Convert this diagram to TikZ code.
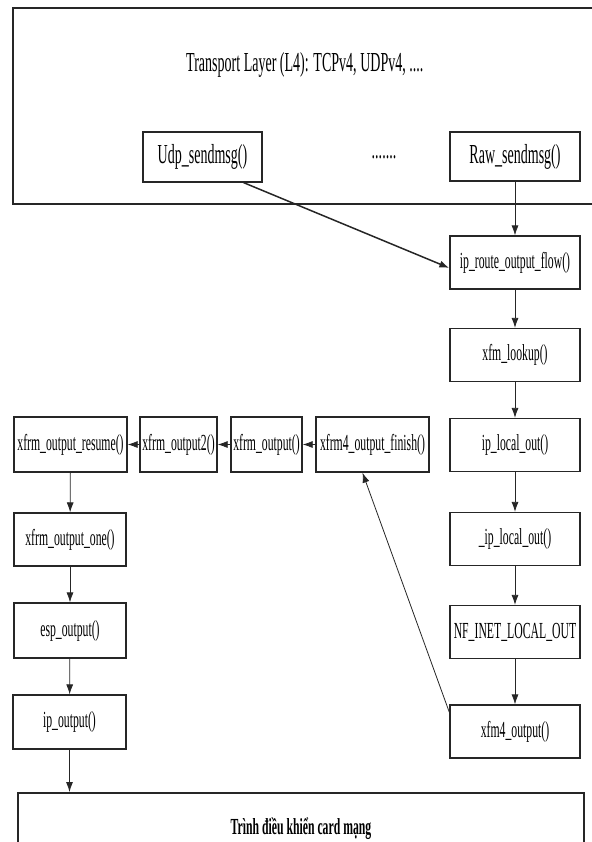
\documentclass[tikz,border=0pt]{standalone}
\usepackage{fontspec}
\setmainfont[FakeStretch=0.51]{Liberation Serif}
\usetikzlibrary{arrows.meta,positioning}

\tikzset{
  fnbox/.style={draw=black!85, line width=1.3bp, rectangle, inner sep=0pt,
    minimum width=130bp, minimum height=53bp, align=center,
    font=\fontsize{23bp}{27bp}\selectfont},
  bigtext/.style={font=\fontsize{27.5bp}{32bp}\selectfont},
  layerbox/.style={draw=black!85, line width=1.6bp, rectangle, inner sep=0pt},
  flow/.style={draw=black!85, line width=0.8bp,
    -{Latex[length=10bp,width=7bp]}},
  bigflow/.style={flow, line width=1.5bp},
}

\begin{document}
\begin{tikzpicture}[x=1bp,y=-1bp]
  \useasboundingbox (0,0) rectangle (592,842);

  % transport layer
  \node[layerbox, anchor=north west, minimum width=584bp, minimum height=196bp] (l4) at (12,7) {};
  \node[bigtext] (l4title) at ([yshift=-58bp]l4.north) {Transport Layer (L4): TCPv4, UDPv4, ....};
  \node[fnbox, bigtext, minimum width=119bp, minimum height=50bp] (udp) at (202.5,157) {Udp\_sendmsg()};
  \node[bigtext] (more) at (384,157) {.......};
  \node[fnbox, bigtext, minimum height=49bp] (raw) at (515,156.5) {Raw\_sendmsg()};

  % right column
  \node[fnbox] (route)  at (515,262.5) {ip\_route\_output\_flow()};
  \node[fnbox] (lookup) at (515,355)   {xfm\_lookup()};
  \node[fnbox] (lout)   at (515,445)   {ip\_local\_out()};
  \node[fnbox] (ulout)  at (515,539)   {\_ip\_local\_out()};
  \node[fnbox] (nf)     at (515,632)   {NF\_INET\_LOCAL\_OUT};
  \node[fnbox] (x4out)  at (515,731.5) {xfm4\_output()};

  % middle row
  \node[fnbox, minimum width=113bp, minimum height=55bp] (finish) at (372.5,444.5) {xfrm4\_output\_finish()};
  \node[fnbox, minimum width=71bp,  minimum height=55bp] (xout)   at (266.5,444.5) {xfrm\_output()};
  \node[fnbox, minimum width=77bp,  minimum height=55bp] (xout2)  at (178.5,444.5) {xfrm\_output2()};
  \node[fnbox, minimum width=113bp, minimum height=55bp] (resume) at (70.5,444.5)  {xfrm\_output\_resume()};

  % left column
  \node[fnbox, minimum width=112bp] (one)  at (70,539.5) {xfrm\_output\_one()};
  \node[fnbox, minimum width=112bp, minimum height=55bp] (esp)  at (70,630.5) {esp\_output()};
  \node[fnbox, minimum width=113bp, minimum height=54bp] (ipout) at (69.5,722) {ip\_output()};

  % network card driver
  \node[layerbox, anchor=north, minimum width=566bp, minimum height=72bp,
        font=\bfseries\fontsize{23bp}{27bp}\selectfont] (nic) at (301,792) {Trình điều khiển card mạng};

  % connectors
  \draw[bigflow] ([xshift=-19bp]udp.south east) -- ([yshift=-5.5bp]route.west);
  \draw[flow] (raw) -- (route);
  \draw[flow] (route) -- (lookup);
  \draw[flow] (lookup) -- (lout);
  \draw[flow] (lout) -- (ulout);
  \draw[flow] (ulout) -- (nf);
  \draw[flow] (nf) -- (x4out);
  \draw[flow] ([yshift=-8bp]x4out.north west) -- ([xshift=-10bp]finish.south);
  \draw[flow] (finish) -- (xout);
  \draw[flow] (xout) -- (xout2);
  \draw[flow] (xout2) -- (resume);
  \draw[flow] (resume) -- (one);
  \draw[flow] (one) -- (esp);
  \draw[flow] (esp) -- (ipout);
  \draw[flow] (ipout.south) -- (ipout.south |- nic.north);
\end{tikzpicture}
\end{document}
